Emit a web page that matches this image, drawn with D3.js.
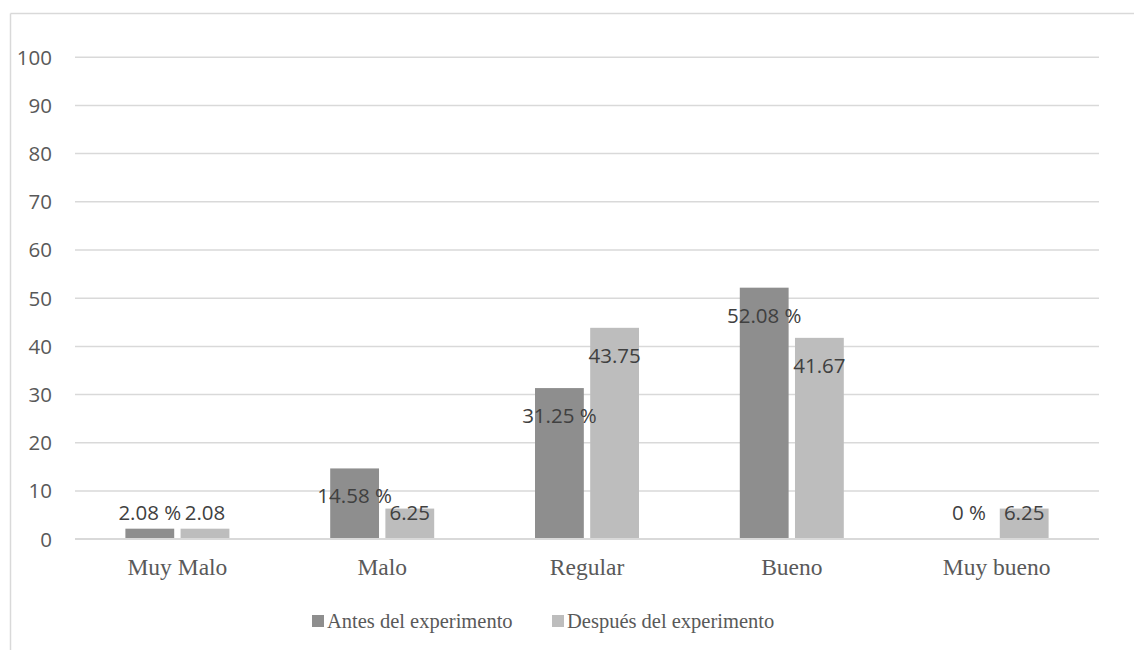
<!DOCTYPE html>
<html>
<head>
<meta charset="utf-8">
<script src="https://cdn.jsdelivr.net/npm/d3@7"></script>
<style>
  html, body { margin: 0; padding: 0; background: #fff; }
  svg { display: block; }
</style>
</head>
<body>
<svg id="chart" width="1134" height="650"></svg>
<script>
// Rating categories and the two survey rounds (percent of respondents)
const categories = ["Muy Malo", "Malo", "Regular", "Bueno", "Muy bueno"];
const seriesNames = ["Antes del experimento", "Después del experimento"];
const antes = [2.08, 14.58, 31.25, 52.08, 0];
const despues = [2.08, 6.25, 43.75, 41.67, 6.25];
const yTicks = [0, 10, 20, 30, 40, 50, 60, 70, 80, 90, 100];

const colors = ["#8e8e8e", "#bdbdbd"];
const labelSuffix = [" %", ""];
const series = [antes, despues];

const svg = d3.select("#chart");
const W = 1134, H = 650;
const plot = { left: 75, right: 1099, top: 56.7, bottom: 538.7 };

// Outer chart frame (top and left edges visible)
svg.append("line").attr("x1", 10.5).attr("x2", W).attr("y1", 13.5).attr("y2", 13.5)
  .attr("stroke", "#d9d9d9").attr("stroke-width", 1.5);
svg.append("line").attr("x1", 10.5).attr("x2", 10.5).attr("y1", 13.5).attr("y2", H)
  .attr("stroke", "#d9d9d9").attr("stroke-width", 1.5);

const x = d3.scaleBand().domain(categories).range([plot.left, plot.right]).padding(0);
const xInner = d3.scaleBand().domain([0, 1]).range([0, 104]).paddingInner(12 / 104);
const y = d3.scaleLinear().domain([0, 100]).range([plot.bottom, plot.top]);

// Horizontal gridlines
const yAxis = d3.axisLeft(y).tickValues(yTicks).tickSize(-(plot.right - plot.left)).tickPadding(23);
const gy = svg.append("g").attr("transform", `translate(${plot.left},0)`).call(yAxis);
gy.select(".domain").remove();
gy.selectAll(".tick line").attr("stroke", "#d9d9d9").attr("stroke-width", 1.5);
gy.selectAll(".tick text")
  .attr("fill", "#595959")
  .style("font-family", "'Open Sans', sans-serif")
  .style("font-size", "20.5px")
  .attr("dy", "0.36em");

// Bars
const groups = svg.append("g").selectAll("g")
  .data(categories)
  .join("g")
  .attr("transform", d => `translate(${x(d) + x.bandwidth() / 2 - 52},0)`);

series.forEach((vals, s) => {
  groups.append("rect")
    .attr("x", xInner(s))
    .attr("width", xInner.bandwidth())
    .attr("y", (d, i) => y(vals[i]))
    .attr("height", (d, i) => y(0) - y(vals[i]))
    .attr("fill", colors[s]);
});

// Value labels, just inside the bar end (kept above the baseline for short bars)
series.forEach((vals, s) => {
  groups.append("text")
    .attr("x", xInner(s) + xInner.bandwidth() / 2)
    .attr("y", (d, i) => Math.min(y(vals[i]) + 35, y(0) - 19))
    .attr("text-anchor", "middle")
    .attr("fill", "#404040")
    .style("font-family", "'Open Sans', sans-serif")
    .style("font-size", "20.5px")
    .text((d, i) => vals[i] + labelSuffix[s]);
});

// Baseline
svg.append("line")
  .attr("x1", plot.left).attr("x2", plot.right)
  .attr("y1", y(0)).attr("y2", y(0))
  .attr("stroke", "#d9d9d9").attr("stroke-width", 1.5);

// Category labels
const xAxis = d3.axisBottom(x).tickSize(0).tickPadding(0);
const gx = svg.append("g").attr("transform", `translate(0,${y(0)})`).call(xAxis);
gx.select(".domain").remove();
gx.selectAll(".tick text")
  .attr("fill", "#595959")
  .attr("y", 36)
  .attr("dy", 0)
  .style("font-family", "'Liberation Serif', 'Times New Roman', serif")
  .style("font-size", "23.5px");

// Legend
const legendX = [312, 552];
const legend = svg.append("g").selectAll("g")
  .data(seriesNames)
  .join("g")
  .attr("transform", (d, i) => `translate(${legendX[i]},615)`);
legend.append("rect").attr("width", 12).attr("height", 12).attr("fill", (d, i) => colors[i]);
legend.append("text")
  .attr("x", 15).attr("y", 13)
  .attr("fill", "#595959")
  .style("font-family", "'Liberation Serif', 'Times New Roman', serif")
  .style("font-size", "20.5px")
  .text(d => d);
</script>
</body>
</html>
